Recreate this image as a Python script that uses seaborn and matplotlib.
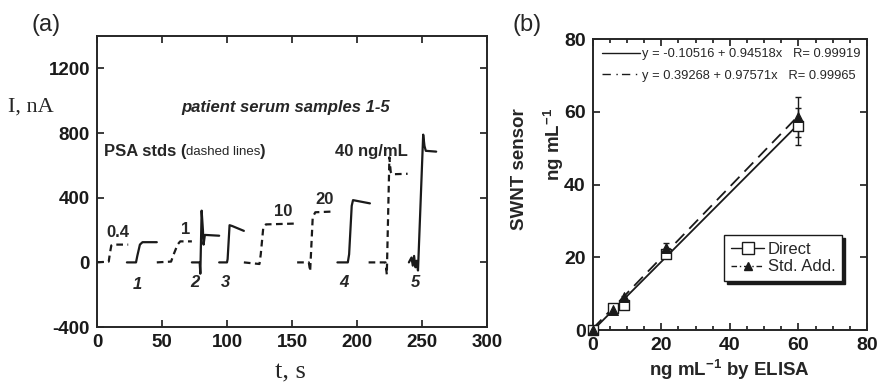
import numpy as np
import pandas as pd
import matplotlib
matplotlib.use("Agg")
import matplotlib.pyplot as plt
from matplotlib.lines import Line2D
from matplotlib.ticker import MultipleLocator
import seaborn as sns

# ---------------- data: panel (a) amperometric traces ----------------
# PSA standards (dashed)
t_std04 = [0, 9, 10, 11, 12, 24]
i_std04 = [0, 5, 60, 105, 110, 110]
t_std1 = [46, 57, 59, 62, 64, 73]
i_std1 = [0, 5, 50, 110, 130, 130]
t_std10 = [113, 125, 126, 128, 130, 152]
i_std10 = [0, -10, 50, 220, 235, 240]
t_std20 = [154, 163, 164, 166, 168, 183]
i_std20 = [0, 0, -55, 280, 310, 315]
t_std40 = [209, 222, 223, 225, 226, 227, 239]
i_std40 = [0, 0, -75, 650, 560, 545, 548]
# patient serum samples (solid)
t_s1 = [23, 30, 31, 33, 35, 46]
i_s1 = [0, 0, 40, 110, 125, 125]
t_s2 = [73, 79, 79.5, 80.5, 81.5, 82, 83, 94]
i_s2 = [0, 0, -70, 320, 200, 110, 170, 165]
t_s3 = [94, 100, 100.5, 102, 104, 113]
i_s3 = [0, 0, 20, 230, 225, 195]
t_s4 = [185, 193, 194, 196, 197, 210]
i_s4 = [0, 0, 50, 350, 385, 365]
t_s5 = [240, 242, 243, 244, 245, 246, 247, 251, 252, 253, 261]
i_s5 = [0, 30, -20, 40, -30, 10, -50, 790, 720, 690, 685]

std_labels = ["0.4", "1", "10", "20"]
std_label_t = [16, 68, 143, 175]
std_label_i = [185, 203, 314, 388]
sample_labels = ["1", "2", "3", "4", "5"]
sample_label_t = [31, 75, 99, 190, 245]
sample_label_i = [-135, -125, -125, -125, -125]

# ---------------- data: panel (b) ----------------
elisa_x = [0, 6, 9, 21.5, 60]
direct_y = [0, 6, 7, 21, 56]
direct_err = [0.3, 0.5, 0.5, 1.2, 5]
stdadd_y = [0, 5.5, 9, 22.5, 58.5]
stdadd_err = [0.3, 0.5, 0.5, 1.5, 5.5]
fit_direct = (-0.10516, 0.94518)
fit_stdadd = (0.39268, 0.97571)
fit_xrange = [0, 60]
fit_direct_label = "y = -0.10516 + 0.94518x   R= 0.99919"
fit_stdadd_label = "y = 0.39268 + 0.97571x   R= 0.99965"

# ---------------- style ----------------
sns.set_theme(style="ticks")
plt.rcParams["font.family"] = ["Liberation Sans", "DejaVu Sans"]
plt.rcParams["mathtext.fontset"] = "custom"
plt.rcParams["mathtext.rm"] = "Liberation Sans:bold"
plt.rcParams["mathtext.bf"] = "Liberation Sans:bold"
plt.rcParams["mathtext.default"] = "bf"
plt.rcParams["axes.linewidth"] = 1.4
plt.rcParams["axes.unicode_minus"] = False

fig = plt.figure(figsize=(8.82, 3.83), dpi=100)
axA = fig.add_axes([0.110, 0.146, 0.442, 0.760])
axB = fig.add_axes([0.672, 0.138, 0.311, 0.760])

# ---------------- panel (a) ----------------
dash = (3, 2)
for t, i in [(t_std04, i_std04), (t_std1, i_std1), (t_std10, i_std10),
             (t_std20, i_std20), (t_std40, i_std40)]:
    sns.lineplot(x=t, y=i, ax=axA, color="k", lw=1.6, sort=False,
                 estimator=None, dashes=False, linestyle=(0, dash))
for t, i in [(t_s1, i_s1), (t_s2, i_s2), (t_s3, i_s3), (t_s4, i_s4), (t_s5, i_s5)]:
    sns.lineplot(x=t, y=i, ax=axA, color="k", lw=1.6, sort=False, estimator=None)

axA.set_xlim(0, 300)
axA.set_ylim(-400, 1400)
axA.set_xticks(np.arange(0, 301, 50))
axA.set_yticks(np.arange(-400, 1201, 400))
axA.tick_params(direction="in", top=True, right=True, length=5, width=1.2,
                labelsize=13.5, pad=5, colors="k")
for lab in axA.get_xticklabels() + axA.get_yticklabels():
    lab.set_fontweight("bold")
axA.set_xlabel("")
axA.set_ylabel("")

for s, x, y in zip(std_labels, std_label_t, std_label_i):
    axA.text(x, y, s, ha="center", va="center", fontsize=12, fontweight="bold")
for s, x, y in zip(sample_labels, sample_label_t, sample_label_i):
    axA.text(x, y, s, ha="center", va="center", fontsize=12, fontweight="bold",
             style="italic")
axA.text(145, 960, "patient serum samples 1-5", ha="center", va="center",
         fontsize=12, fontweight="bold", style="italic")
axA.text(211, 683, "40 ng/mL", ha="center", va="center", fontsize=12,
         fontweight="bold")
t1 = axA.text(5, 683, "PSA stds (", ha="left", va="center", fontsize=12,
              fontweight="bold")
fig.canvas.draw()
bb = t1.get_window_extent()
inv = axA.transData.inverted()
x_end = inv.transform((bb.x1, bb.y0))[0]
t2 = axA.text(x_end, 683, "dashed lines", ha="left", va="center", fontsize=9.5)
fig.canvas.draw()
bb2 = t2.get_window_extent()
x_end2 = inv.transform((bb2.x1, bb2.y0))[0]
axA.text(x_end2, 683, ")", ha="left", va="center", fontsize=12, fontweight="bold")

fig.text(8 / 882, 1 - 107 / 383, "I, nA", ha="left", va="center",
         fontsize=16, family=["Liberation Serif", "DejaVu Serif"])
fig.text(290 / 882, 1 - 372 / 383, "t, s", ha="center", va="center",
         fontsize=19, family=["Liberation Serif", "DejaVu Serif"])
fig.text(46 / 882, 1 - 25 / 383, "(a)", ha="center", va="center", fontsize=17)
fig.text(527 / 882, 1 - 25 / 383, "(b)", ha="center", va="center", fontsize=17)

# ---------------- panel (b) ----------------
fx = np.array(fit_xrange, dtype=float)
sns.lineplot(x=fx, y=fit_direct[0] + fit_direct[1] * fx, ax=axB, color="k",
             lw=1.3, sort=False, estimator=None)
sns.lineplot(x=fx, y=fit_stdadd[0] + fit_stdadd[1] * fx, ax=axB, color="k",
             lw=1.3, sort=False, estimator=None, linestyle=(0, (7, 4)))
axB.errorbar(elisa_x, stdadd_y, yerr=stdadd_err, fmt="none", ecolor="k",
             elinewidth=1.0, capsize=2.5, capthick=1.0, zorder=3)
axB.errorbar(elisa_x, direct_y, yerr=direct_err, fmt="none", ecolor="k",
             elinewidth=1.0, capsize=2.5, capthick=1.0, zorder=3)
sns.scatterplot(x=elisa_x, y=direct_y, ax=axB, marker="s", s=60,
                facecolor="white", edgecolor="k", linewidth=1.0, zorder=4,
                clip_on=False)
sns.scatterplot(x=elisa_x, y=stdadd_y, ax=axB, marker="^", s=50,
                color="k", edgecolor="k", linewidth=0.8, zorder=5,
                clip_on=False)

axB.set_xlim(0, 80)
axB.set_ylim(0, 80)
axB.set_xticks(np.arange(0, 81, 20))
axB.set_yticks(np.arange(0, 81, 20))
axB.xaxis.set_minor_locator(MultipleLocator(5))
axB.tick_params(which="both", direction="in", top=True, right=True, width=1.2,
                colors="k")
axB.tick_params(which="major", length=5, labelsize=14, pad=5)
axB.tick_params(which="minor", length=3)
for lab in axB.get_xticklabels() + axB.get_yticklabels():
    lab.set_fontweight("bold")
axB.set_xlabel("ng mL$^{-1}$ by ELISA", fontsize=13.5, fontweight="bold",
               labelpad=3)
axB.set_ylabel("")
fig.text(519 / 882, 1 - 108 / 383, "SWNT sensor", rotation=90, ha="center",
         va="top", fontsize=13.5, fontweight="bold")
fig.text(554 / 882, 1 - 108 / 383, "ng mL$^{-1}$", rotation=90, ha="center",
         va="top", fontsize=13.5, fontweight="bold")

fit_handles = [Line2D([], [], color="k", lw=1.0),
               Line2D([], [], color="k", lw=1.0, linestyle=(0, (6, 4, 1, 3)))]
leg1 = axB.legend(fit_handles, [fit_direct_label, fit_stdadd_label],
                  loc="upper left", bbox_to_anchor=(0.0, 1.0), frameon=False,
                  fontsize=9.3, handlelength=3.0, handletextpad=0.1,
                  labelspacing=0.75, borderaxespad=0.4, borderpad=0.3)
axB.add_artist(leg1)

pt_handles = [Line2D([], [], color="k", lw=1.0, marker="s", markersize=8,
                     markerfacecolor="white", markeredgecolor="k"),
              Line2D([], [], color="k", lw=1.0, marker="^", markersize=6,
                     markerfacecolor="k", linestyle=(0, (4, 2, 1, 2)))]
leg2 = axB.legend(pt_handles, ["Direct", "Std. Add."], loc="upper left",
                  bbox_to_anchor=(0.48, 0.326), frameon=True, fontsize=12,
                  handlelength=2.0, handletextpad=0.2, labelspacing=0.15,
                  borderpad=0.4, borderaxespad=0.0, fancybox=False,
                  shadow={"color": "k", "alpha": 1.0})
leg2.get_frame().set_edgecolor("k")
leg2.get_frame().set_linewidth(1.0)

fig.savefig("out.png", dpi=100)
